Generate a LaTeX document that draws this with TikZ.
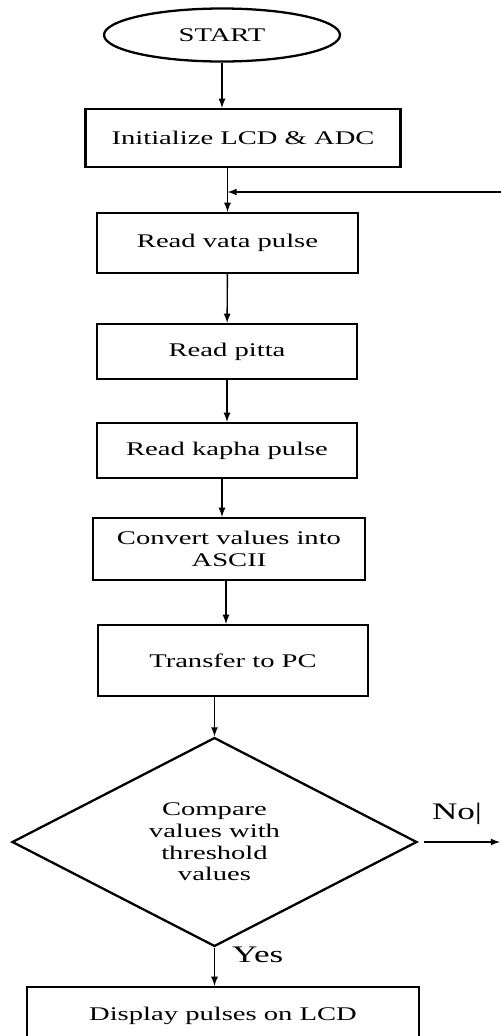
\documentclass[tikz,border=0pt]{standalone}
\usepackage{fontspec}
\setmainfont{Liberation Serif}[FakeStretch=1.48]
\usepackage{tikz}
\usetikzlibrary{shapes,arrows,positioning}

\tikzset{
  procbox/.style={draw, line width=1.3pt, rectangle, align=center,
    font=\fontsize{11}{12.8}\selectfont},
  arr/.style={-latex, line width=0.8pt}
}

\begin{document}
\begin{tikzpicture}[x=0.02cm,y=-0.02cm]
    \useasboundingbox[fill=white] (0,0) rectangle (501,1036);

    % draw nodes
    \node[draw, ellipse, line width=1.3pt, minimum width=4.72cm, minimum height=1.06cm,
      font=\fontsize{11}{12.8}\selectfont] (start) at (222,35) {START};
    \node[procbox, minimum width=6.3cm, minimum height=1.16cm] (init) at (243,138) {Initialize LCD \& ADC};
    \node[procbox, minimum width=5.22cm, minimum height=1.2cm] (vata) at (227.5,243) {Read vata pulse};
    \node[procbox, minimum width=5.2cm, minimum height=1.1cm] (pitta) at (227,351.5) {Read pitta};
    \node[procbox, minimum width=5.2cm, minimum height=1.1cm] (kapha) at (227,450.5) {Read kapha pulse};
    \node[procbox, minimum width=5.44cm, minimum height=1.24cm] (conv) at (229,549) {Convert values into\\ASCII};
    \node[procbox, minimum width=5.4cm, minimum height=1.42cm] (transfer) at (233,660.5) {Transfer to PC};
    \node[draw, diamond, line width=1.3pt, minimum width=8.1cm, minimum height=4cm, inner sep=0pt,
      align=center, font=\fontsize{11}{12.3}\selectfont] (cmp) at (214.5,842)
      {Compare\\values with\\threshold\\values};
    \node[procbox, minimum width=7.84cm, minimum height=1.16cm] (disp) at (223,1016) {Display pulses on LCD};

    % draw coordinates for the free ends
    \coordinate (loopin) at (501,192);
    \coordinate (noend) at (500,842);

    % draw arrows
    \draw[arr] (start.south) -- (start.south |- init.north);
    \draw[arr] (init.south -| vata) -- (vata.north);
    \draw[arr] (loopin) -- (loopin -| vata);
    \draw[arr] (vata) -- (pitta);
    \draw[arr] (pitta) -- (kapha);
    \draw[arr] (kapha.south -| 222,0) -- (conv.north -| 222,0);
    \draw[arr] (conv.south -| 226,0) -- (transfer.north -| 226,0);
    \draw[arr] (transfer.south -| cmp.north) -- (cmp.north);
    \draw[arr] ([xshift=0.12cm]cmp.east) -- (noend);
    \draw[arr] (cmp.south) -- (cmp.south |- disp.north);

    % draw labels
    \node[font=\fontsize{13.5}{15}\selectfont, anchor=west] (yes) at (226,955) {Yes};
    \node[font=\fontsize{13.5}{15}\selectfont] (no) at (457,814) {No|};
\end{tikzpicture}
\end{document}
